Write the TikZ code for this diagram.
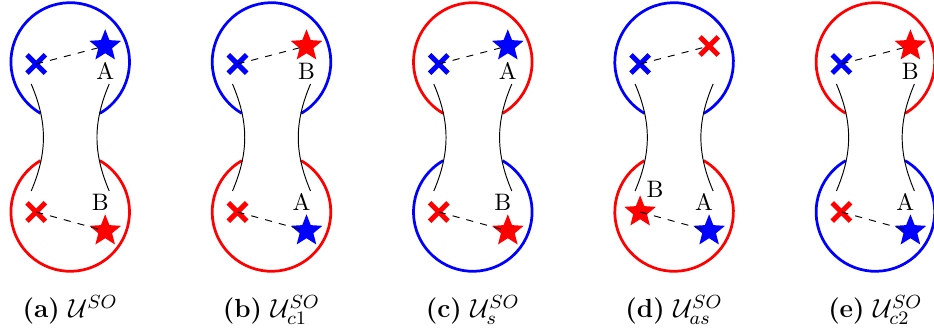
\documentclass[tikz,border=0pt]{standalone}
\usetikzlibrary{shapes.geometric,shapes.misc}
\begin{document}
\begin{tikzpicture}[x=.42pt,y=.42pt,
  ring/.style={line width=1.15pt},
  neck/.style={line width=.4pt},
  mkstar/.style={star,star points=5,star point ratio=2.3,fill=#1,inner sep=0pt,minimum size=14pt},
  mkcross/.style={cross out,draw=#1,line width=2.1pt,inner sep=0pt,minimum size=5.6pt}]
\useasboundingbox (-70.2,-198) rectangle (863.8,137);
\foreach \i/\cu/\cd/\sr/\colr/\lr/\sl/\ll/\colb/\lb/\sub [count=\k from 0] in
 {a/blue/red/mkstar/blue/A/mkcross//red/B/,
  b/blue/red/mkstar/red/B/mkcross//blue/A/c1,
  c/red/blue/mkstar/blue/A/mkcross//red/B/s,
  d/blue/red/mkcross/red//mkstar/B/blue/A/as,
  e/red/blue/mkstar/red/B/mkcross//blue/A/c2}{
\begin{scope}[shift={(\k*201.3,0)}]
% the two lobes and the neck
\draw[ring,\cu] (0,75) ++(-60:59.3) arc (-60:240:59.3);
\draw[ring,\cd] (0,-75) ++(120:59.3) arc (120:420:59.3);
\draw[neck] (-39,53) to[bend left=23] (-39,-54);
\draw[neck] (39,53) to[bend right=23] (39,-54);
% particles
\node[mkcross=blue] (tl\i) at (-34,73) {};
\node[\sr=\colr] (tr\i) at (35,91) {};
\node[\sl=red] (bl\i) at (-34,-75) {};
\node[mkstar=\colb] (br\i) at (35,-94) {};
\draw[dashed] (tl\i.center) -- (tr\i.center);
\draw[dashed] (bl\i.center) -- (br\i.center);
\node at (35,66) {\lr};
\node at (30,-65) {\lb};
\node at (-19,-52) {\ll};
\node[font=\fontsize{11}{13}\selectfont] (cap\i) at (0,-173) {\textbf{(\i)} $\mathcal{U}^{SO}_{\sub}$};
\end{scope}}
\end{tikzpicture}
\end{document}
